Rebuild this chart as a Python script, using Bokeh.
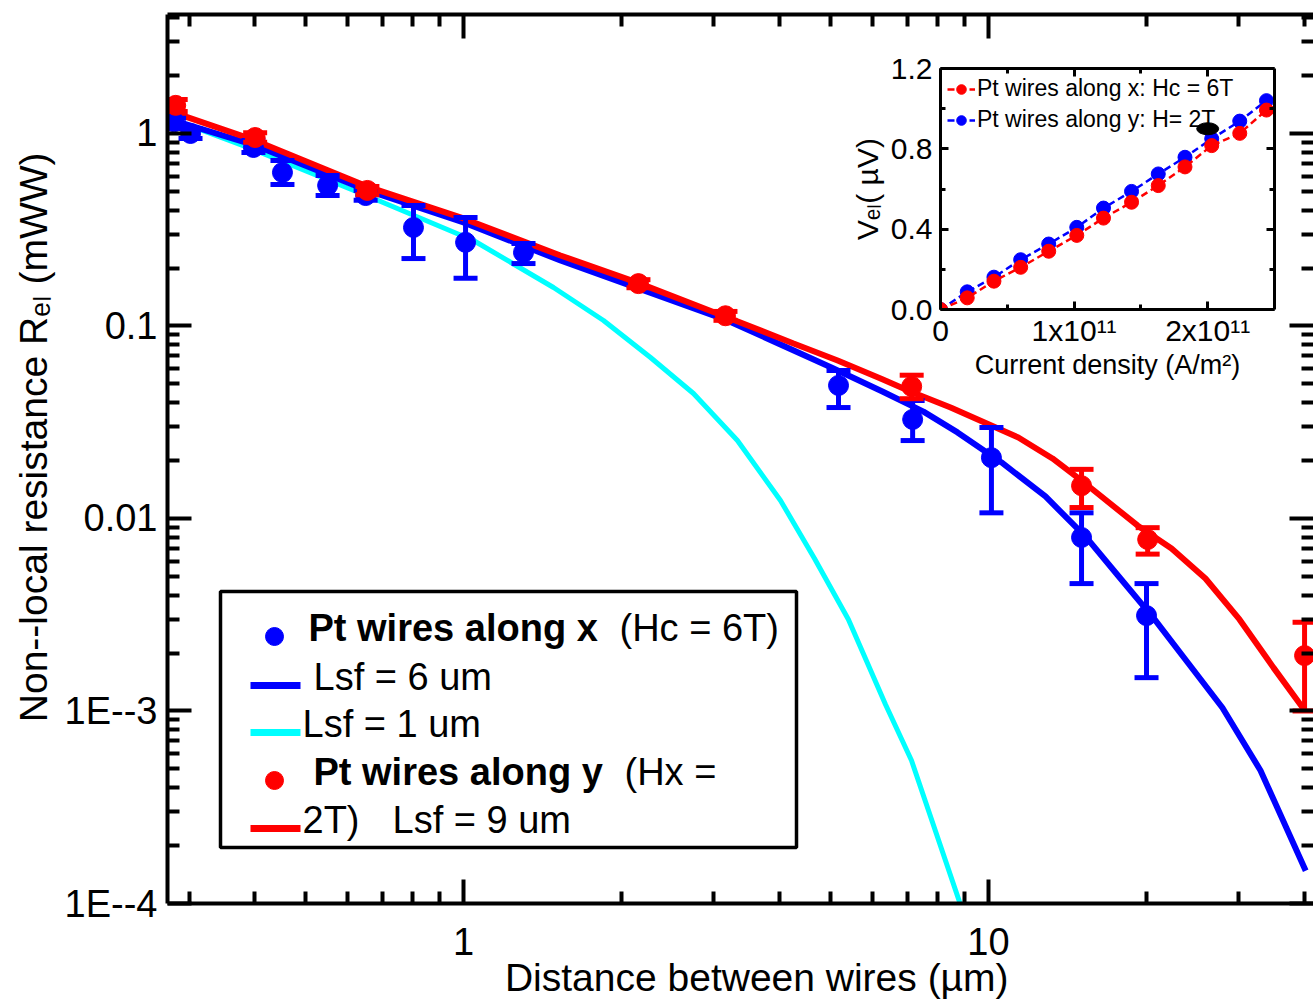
import math
from bokeh.plotting import figure
from bokeh.models import (Range1d, LogAxis, LinearAxis, FixedTicker, Label,
                          BoxAnnotation, GridBox, Legend, LegendItem,
                          CustomJSTickFormatter)
from bokeh.embed import file_html
from bokeh.resources import INLINE

FONT = "Liberation Sans"
NBSP = "\u00a0"

# ---------------- main panel: measured points ----------------
x_blue = [0.281, 0.302, 0.398, 0.452, 0.551, 0.651, 0.803, 1.009, 1.301, 5.18, 7.17, 10.13, 15.04, 20.0]
y_blue = [1.15, 1.0, 0.846, 0.627, 0.537, 0.476, 0.325, 0.272, 0.241, 0.0491, 0.0327, 0.0207, 0.00797, 0.00313]
lo_blue = [1.10, 0.942, 0.797, 0.543, 0.476, 0.45, 0.224, 0.177, 0.211, 0.0377, 0.0254, 0.0107, 0.00459, 0.00149]
hi_blue = [1.20, 1.06, 0.92, 0.724, 0.605, 0.505, 0.423, 0.366, 0.268, 0.0587, 0.0410, 0.0297, 0.0107, 0.00459]

x_red = [0.283, 0.401, 0.656, 2.154, 3.155, 7.14, 15.04, 20.1, 40.0]
y_red = [1.40, 0.953, 0.506, 0.166, 0.113, 0.0485, 0.0148, 0.00778, 0.00194]
lo_red = [1.30, 0.90, 0.48, 0.158, 0.107, 0.0419, 0.0114, 0.00653, 0.00100]
hi_red = [1.50, 1.01, 0.53, 0.174, 0.119, 0.0555, 0.0180, 0.00896, 0.00289]

# ---------------- main panel: model curves ----------------
fit6_x = [0.273, 0.401, 0.656, 1.0, 1.53, 3.18, 5.02, 6.28, 7.52, 8.73, 10.59, 12.84, 15.37,
          17.84, 20.72, 24.04, 27.9, 32.97, 40.2]
fit6_y = [1.196, 0.866, 0.506, 0.345, 0.219, 0.1068, 0.0609, 0.0457, 0.0359, 0.0280, 0.01954,
          0.01301, 0.00796, 0.00488, 0.00299, 0.001765, 0.00104, 0.000491, 0.000148]

fit9_x = [0.273, 0.401, 0.656, 1.0, 1.53, 2.145, 3.184, 4.253, 5.16, 6.23, 7.10, 8.47, 11.40,
          13.24, 15.37, 19.22, 22.32, 25.9, 30.07, 34.9, 40.0]
fit9_y = [1.317, 0.920, 0.530, 0.362, 0.2324, 0.168, 0.1107, 0.0811, 0.0662, 0.0534, 0.0457,
          0.0377, 0.02635, 0.0205, 0.01502, 0.00920, 0.00699, 0.00488, 0.00299, 0.00168, 0.00101]

fit1_x = [0.283, 0.393, 0.674, 1.045, 1.484, 1.848, 2.271, 2.742, 3.325, 4.016, 4.662, 5.41,
          6.366, 7.135, 8.92]
fit1_y = [1.168, 0.836, 0.4597, 0.278, 0.1585, 0.1068, 0.0686, 0.0446, 0.0254, 0.0124, 0.0062,
          0.00299, 0.00108, 0.000553, 0.000092]

x_major = [1, 10]
x_major_labels = ["1", "10"]
x_minor = [0.3, 0.4, 0.5, 0.6, 0.7, 0.8, 0.9, 2, 3, 4, 5, 6, 7, 8, 9, 20, 30, 40]
y_major = [1e-4, 1e-3, 1e-2, 1e-1, 1]
y_major_labels = ["1E--4", "1E--3", "0.01", "0.1", "1"]
y_minor = [k * 10 ** d for d in range(-4, 1) for k in range(2, 10)]

# ---------------- inset data ----------------
inset_j = [0, 0.2e11, 0.4e11, 0.6e11, 0.81e11, 1.02e11, 1.22e11, 1.43e11, 1.63e11, 1.83e11,
           2.03e11, 2.24e11, 2.44e11]
inset_red = [0, 0.058, 0.141, 0.210, 0.290, 0.369, 0.455, 0.534, 0.617, 0.710, 0.816, 0.877, 0.993]
inset_blue = [0, 0.088, 0.161, 0.248, 0.326, 0.409, 0.505, 0.588, 0.675, 0.758, 0.85, 0.938, 1.04]
inset_blob_x = [2.0e11]
inset_blob_y = [0.90]
inset_x_major = [0, 1e11, 2e11]
inset_x_labels = ["0", "1x10\u00b9\u00b9", "2x10\u00b9\u00b9"]
inset_x_minor = [0.5e11, 1.5e11]
inset_y_major = [0.0, 0.4, 0.8, 1.2]
inset_y_labels = ["0.0", "0.4", "0.8", "1.2"]
inset_y_minor = [0.2, 0.6, 1.0]

BLUE = "#0000ff"
RED = "#ff0000"
CYAN = "#00ffff"

# ---------------- geometry (page pixels) ----------------
W, H = 1313, 1002
XR = (0.273, 41.6)
YR = (1e-4, 4.15)
F_L, F_R, F_T, F_B = 167, 1313, 14, 903


def xd(px):
    lx0, lx1 = math.log10(XR[0]), math.log10(XR[1])
    return 10 ** (lx0 + (px - F_L) / (F_R - F_L) * (lx1 - lx0))


def yd(py):
    ly0, ly1 = math.log10(YR[0]), math.log10(YR[1])
    return 10 ** (ly1 - (py - F_T) / (F_B - F_T) * (ly1 - ly0))


def fmt(vals, labs):
    return CustomJSTickFormatter(args=dict(vals=vals, labs=labs), code="""
        for (let i = 0; i < vals.length; i++) {
            if (Math.abs(tick - vals[i]) <= 1e-9 * Math.max(Math.abs(vals[i]), 1e-30)) return labs[i];
        }
        return "";
    """)


def style_axis(ax, major, minor, labels, tick_in, minor_in, lw, font_size, standoff, show=True):
    ax.ticker = FixedTicker(ticks=major, minor_ticks=minor)
    ax.axis_line_width = lw
    ax.axis_line_color = "black"
    ax.major_tick_line_width = lw
    ax.minor_tick_line_width = lw
    ax.major_tick_in = tick_in
    ax.major_tick_out = 0
    ax.minor_tick_in = minor_in
    ax.minor_tick_out = 0
    ax.major_label_text_font = FONT
    ax.major_label_text_color = "black"
    if show:
        ax.formatter = fmt(major, labels)
        ax.major_label_text_font_size = font_size
        ax.major_label_standoff = standoff
    else:
        ax.formatter = fmt(major, [""] * len(major))
        ax.major_label_text_font_size = "1px"
        ax.major_label_standoff = 0


def style_label(ax, text, size, standoff):
    ax.axis_label = text
    ax.axis_label_text_font = FONT
    ax.axis_label_text_font_size = size
    ax.axis_label_text_font_style = "normal"
    ax.axis_label_text_color = "black"
    ax.axis_label_standoff = standoff


# ---------------- main figure ----------------
p = figure(width=W, height=H, x_axis_type="log", y_axis_type="log", title=None,
           x_range=Range1d(*XR), y_range=Range1d(*YR),
           output_backend="svg", toolbar_location=None,
           min_border_left=F_L, min_border_right=0, min_border_top=F_T,
           min_border_bottom=H - F_B)
p.frame_align = False
p.grid.visible = False
p.outline_line_color = None
p.background_fill_color = "white"
p.border_fill_color = "white"

style_axis(p.xaxis[0], x_major, x_minor, x_major_labels, 24, 12, 4, "38px", 24)
style_label(p.xaxis[0], NBSP * 3 + "Distance between wires (\u00b5m)", "39px", -2)

style_axis(p.yaxis[0], y_major, y_minor, y_major_labels, 24, 12, 4, "38px", 10)
style_label(p.yaxis[0], NBSP * 4 + "Non--local resistance R\u2091\u2097 (mWW)", "39px", 7)

top_ax = LogAxis()
style_axis(top_ax, x_major, x_minor, x_major_labels, 24, 12, 4, "1px", 0, show=False)
p.add_layout(top_ax, "above")
right_ax = LogAxis()
style_axis(right_ax, y_major, y_minor, y_major_labels, 24, 12, 4, "1px", 0, show=False)
right_ax.axis_line_alpha = 0
p.add_layout(right_ax, "right")

# curves
p.line(fit1_x, fit1_y, line_color=CYAN, line_width=5)
p.line(fit6_x, fit6_y, line_color=BLUE, line_width=6)
p.line(fit9_x, fit9_y, line_color=RED, line_width=6)

# blue data with error bars
p.segment(x0=x_blue, y0=lo_blue, x1=x_blue, y1=hi_blue, line_color=BLUE, line_width=5)
p.scatter(x_blue + x_blue, lo_blue + hi_blue, marker="dash", size=24, line_width=5, line_color=BLUE)
p.scatter(x_blue, y_blue, marker="circle", size=20, fill_color=BLUE, line_color=BLUE)

# red data with error bars
p.segment(x0=x_red, y0=lo_red, x1=x_red, y1=hi_red, line_color=RED, line_width=5)
p.scatter(x_red + x_red, lo_red + hi_red, marker="dash", size=24, line_width=5, line_color=RED)
p.scatter(x_red, y_red, marker="circle", size=20, fill_color=RED, line_color=RED)

# ---- hand-built legend box ----
p.add_layout(BoxAnnotation(left=xd(220), right=xd(796), top=yd(591), bottom=yd(847),
                           fill_alpha=0, line_color="black", line_alpha=1, line_width=3.5))
p.scatter([xd(274)], [yd(636)], marker="circle", size=18, color=BLUE)
p.line([xd(250), xd(300)], [yd(685), yd(685)], line_color=BLUE, line_width=7)
p.line([xd(250), xd(300)], [yd(732), yd(732)], line_color=CYAN, line_width=7)
p.scatter([xd(274)], [yd(780)], marker="circle", size=18, color=RED)
p.line([xd(250), xd(300)], [yd(828), yd(828)], line_color=RED, line_width=7)

LEG = "38px"
legend_texts = [
    ("Pt wires along x", 308, 627, "bold"),
    ("(Hc = 6T)", 619, 627, "normal"),
    ("Lsf = 6 um", 313, 676, "normal"),
    ("Lsf = 1 um", 302, 723, "normal"),
    ("Pt wires along y", 313, 771, "bold"),
    ("(Hx =", 624, 771, "normal"),
    ("2T)", 302, 819, "normal"),
    ("Lsf = 9 um", 392, 819, "normal"),
]
for txt, px, py, style in legend_texts:
    p.add_layout(Label(x=xd(px), y=yd(py), text=txt, text_font=FONT, text_font_size=LEG,
                       text_font_style=style, text_align="left", text_baseline="alphabetic",
                       text_color="black"))

# ---------------- inset figure (full-size transparent overlay) ----------------
IX = (0, 2.5e11)
IY = (0, 1.2)
I_L, I_R, I_T, I_B = 940, 1274, 68, 309

inset = figure(width=W, height=H, x_range=Range1d(*IX), y_range=Range1d(*IY), title=None,
               output_backend="svg", toolbar_location=None,
               min_border_left=I_L, min_border_right=W - I_R,
               min_border_top=I_T, min_border_bottom=H - I_B)
inset.frame_align = False
inset.grid.visible = False
inset.outline_line_color = None
inset.background_fill_alpha = 0
inset.border_fill_alpha = 0

style_axis(inset.xaxis[0], inset_x_major, inset_x_minor, inset_x_labels, 8, 5, 3, "30px", 4)
style_label(inset.xaxis[0], "Current density (A/m\u00b2)", "27px", 0)
style_axis(inset.yaxis[0], inset_y_major, inset_y_minor, inset_y_labels, 8, 5, 3, "30px", 8)
style_label(inset.yaxis[0], "V\u2091\u2097( \u00b5V)", "30px", 4)

itop = LinearAxis()
style_axis(itop, inset_x_major, inset_x_minor, inset_x_labels, 8, 5, 3, "1px", 0, show=False)
inset.add_layout(itop, "above")
iright = LinearAxis()
style_axis(iright, inset_y_major, inset_y_minor, inset_y_labels, 8, 5, 3, "1px", 0, show=False)
inset.add_layout(iright, "right")

bl = inset.line(inset_j, inset_blue, line_color=BLUE, line_width=2.5, line_dash="7 4")
bs = inset.scatter(inset_j, inset_blue, marker="circle", size=14, color=BLUE)
rl = inset.line(inset_j, inset_red, line_color=RED, line_width=2.5, line_dash="7 4")
rs = inset.scatter(inset_j, inset_red, marker="circle", size=14, color=RED)
inset.ellipse(x=inset_blob_x, y=inset_blob_y, width=22, height=12,
              width_units="screen", height_units="screen", color="black")

ileg = Legend(items=[LegendItem(label="Pt wires along x: Hc = 6T", renderers=[rl, rs]),
                     LegendItem(label="Pt wires along y: H= 2T", renderers=[bl, bs])],
              location="top_left", margin=0, padding=7, spacing=4,
              glyph_width=28, glyph_height=24, label_height=24, label_standoff=2,
              label_text_font=FONT, label_text_font_size="23px", label_text_color="black",
              border_line_alpha=0, background_fill_alpha=0)
inset.add_layout(ileg)

layout = GridBox(children=[(p, 0, 0), (inset, 0, 0)])

open("out.html", "w").write(file_html(layout, INLINE, title="Non-local resistance"))
